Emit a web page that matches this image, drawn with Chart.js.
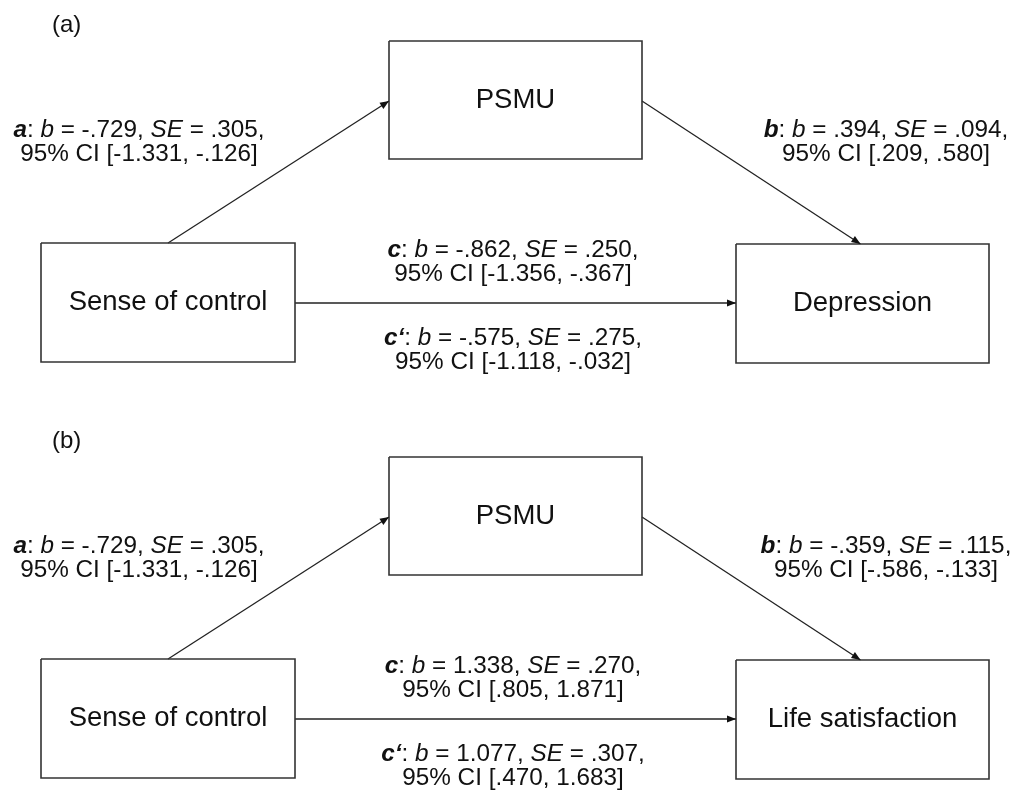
<!DOCTYPE html>
<html>
<head>
<meta charset="utf-8">
<script src="https://cdn.jsdelivr.net/npm/chart.js@4.4.0/dist/chart.umd.min.js"></script>
<style>
    body { margin: 0; background: #fff; }
    #wrap { width: 1017px; height: 796px; }
</style>
</head>
<body>
<div id="wrap"><canvas id="diagram"></canvas></div>
<script>
// Dane modeli mediacji
const panelLabels = ['(a)', '(b)'];
const predictor = 'Sense of control';
const mediator = 'PSMU';
const outcomes = ['Depression', 'Life satisfaction'];
const pathNames = ['a', 'b', 'c', 'c\u2018'];

// kolejność: a, b, c, c'
const bDepression = [-0.729, 0.394, -0.862, -0.575];
const seDepression = [0.305, 0.094, 0.250, 0.275];
const ciLowDepression = [-1.331, 0.209, -1.356, -1.118];
const ciHighDepression = [-0.126, 0.580, -0.367, -0.032];

const bLifeSat = [-0.729, -0.359, 1.338, 1.077];
const seLifeSat = [0.305, 0.115, 0.270, 0.307];
const ciLowLifeSat = [-1.331, -0.586, 0.805, 0.470];
const ciHighLifeSat = [-0.126, -0.133, 1.871, 1.683];

const panelB = [bDepression, bLifeSat];
const panelSE = [seDepression, seLifeSat];
const panelLo = [ciLowDepression, ciLowLifeSat];
const panelHi = [ciHighDepression, ciHighLifeSat];

// Układ (jednostki osi = piksele)
const FONT = '"Liberation Sans", Arial, Helvetica, sans-serif';
const panelOffset = [0, 416];
const boxPredictor = [41, 243, 295, 362];
const boxMediator = [389, 41, 642, 159];
const boxOutcome = [736, 244, 989, 363];
const labelPos = [[139, 137], [886, 137], [513, 257], [513, 345]];
const panelLabelPos = [52, 32];
const lineGap = 24;

function rectPoints(b, dy) {
    return [
        { x: b[0], y: b[1] + dy }, { x: b[2], y: b[1] + dy },
        { x: b[2], y: b[3] + dy }, { x: b[0], y: b[3] + dy },
        { x: b[0], y: b[1] + dy }
    ];
}
const midX = b => (b[0] + b[2]) / 2;
const midY = b => (b[1] + b[3]) / 2;

function fmt(v) {
    let s = Math.abs(v).toFixed(3);
    if (s.startsWith('0')) s = s.slice(1);
    return (v < 0 ? '-' : '') + s;
}

const datasets = [];
panelOffset.forEach((dy, p) => {
    [boxPredictor, boxMediator, boxOutcome].forEach(b => {
        datasets.push({
            data: rectPoints(b, dy), showLine: true, borderColor: '#333',
            borderWidth: 1.6, pointRadius: 0, fill: false, tension: 0
        });
    });
    const arrows = [
        [{ x: midX(boxPredictor), y: boxPredictor[1] + dy }, { x: boxMediator[0], y: midY(boxMediator) + 1 + dy }],
        [{ x: boxMediator[2], y: midY(boxMediator) + 1 + dy }, { x: midX(boxOutcome) - 2, y: boxOutcome[1] + dy }],
        [{ x: boxPredictor[2], y: 303 + dy }, { x: boxOutcome[0], y: 303 + dy }]
    ];
    arrows.forEach(pts => {
        datasets.push({
            data: pts, showLine: true, borderColor: '#222', borderWidth: 1.3,
            pointRadius: 0, fill: false, arrow: true
        });
    });
});

const diagramPlugin = {
    id: 'diagramPlugin',
    afterDatasetsDraw(chart) {
        const ctx = chart.ctx;
        const xs = chart.scales.x, ys = chart.scales.y;

        // groty strzałek
        chart.data.datasets.forEach((ds, i) => {
            if (!ds.arrow) return;
            const pts = chart.getDatasetMeta(i).data;
            const a = pts[0], b = pts[pts.length - 1];
            const ang = Math.atan2(b.y - a.y, b.x - a.x);
            const len = 9, half = 3.6;
            ctx.save();
            ctx.fillStyle = '#111';
            ctx.translate(b.x, b.y);
            ctx.rotate(ang);
            ctx.beginPath();
            ctx.moveTo(0, 0);
            ctx.lineTo(-len, -half);
            ctx.lineTo(-len, half);
            ctx.closePath();
            ctx.fill();
            ctx.restore();
        });

        function runs(list, cx, y, size) {
            let total = 0;
            list.forEach(r => {
                ctx.font = (r.s ? r.s + ' ' : '') + size + 'px ' + FONT;
                r.w = ctx.measureText(r.t).width;
                total += r.w;
            });
            let x = cx - total / 2;
            list.forEach(r => {
                ctx.font = (r.s ? r.s + ' ' : '') + size + 'px ' + FONT;
                ctx.fillText(r.t, x, y);
                x += r.w;
            });
        }

        ctx.save();
        ctx.fillStyle = '#111';
        ctx.textBaseline = 'alphabetic';
        panelOffset.forEach((dy, p) => {
            ctx.textAlign = 'left';
            ctx.font = '24px ' + FONT;
            ctx.fillText(panelLabels[p], xs.getPixelForValue(panelLabelPos[0]), ys.getPixelForValue(panelLabelPos[1] + dy));

            // nazwy zmiennych w ramkach
            ctx.textAlign = 'center';
            ctx.textBaseline = 'middle';
            ctx.font = '27.5px ' + FONT;
            [[boxPredictor, predictor], [boxMediator, mediator], [boxOutcome, outcomes[p]]].forEach(([b, t]) => {
                ctx.fillText(t, xs.getPixelForValue(midX(b)), ys.getPixelForValue(midY(b) + dy));
            });
            ctx.textBaseline = 'alphabetic';
            ctx.textAlign = 'left';

            // opisy ścieżek
            pathNames.forEach((name, k) => {
                const cx = xs.getPixelForValue(labelPos[k][0]);
                const y1 = ys.getPixelForValue(labelPos[k][1] + dy);
                const y2 = ys.getPixelForValue(labelPos[k][1] + lineGap + dy);
                runs([
                    { t: name, s: 'italic bold' },
                    { t: ': ', s: '' },
                    { t: 'b', s: 'italic' },
                    { t: ' = ' + fmt(panelB[p][k]) + ', ', s: '' },
                    { t: 'SE', s: 'italic' },
                    { t: ' = ' + fmt(panelSE[p][k]) + ',', s: '' }
                ], cx, y1, 24.3);
                runs([
                    { t: '95% CI [' + fmt(panelLo[p][k]) + ', ' + fmt(panelHi[p][k]) + ']', s: '' }
                ], cx, y2, 24.3);
            });
        });
        ctx.restore();
    }
};

new Chart(document.getElementById('diagram'), {
    type: 'scatter',
    data: { datasets: datasets },
    options: {
        responsive: true,
        maintainAspectRatio: false,
        animation: false,
        layout: { padding: 0 },
        scales: {
            x: { type: 'linear', min: 0, max: 1017, display: false },
            y: { type: 'linear', min: 0, max: 796, reverse: true, display: false }
        },
        plugins: {
            legend: { display: false },
            tooltip: { enabled: false }
        },
        elements: { line: { borderCapStyle: 'butt' } }
    },
    plugins: [diagramPlugin]
});
</script>
</body>
</html>
